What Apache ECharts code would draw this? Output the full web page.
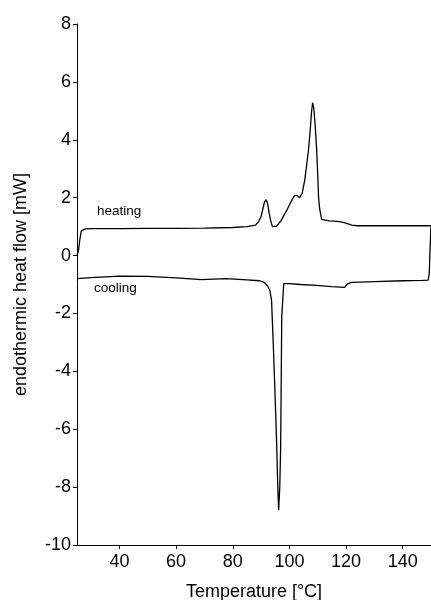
<!DOCTYPE html>
<html><head><meta charset="utf-8">
<script src="https://cdn.jsdelivr.net/npm/echarts@6/dist/echarts.min.js"></script>
<style>html,body{margin:0;padding:0;background:#fff}#c{width:431px;height:600px}</style>
</head><body><div id="c"></div>
<script>
var heatingT = [25,25.5,26,26.5,27,28,30,40,50,60,70,80,85,88,89,90,90.6,91.2,91.8,92.3,92.8,93.4,94,94.6,95.5,97,99,100.5,101.8,102.7,103.6,104.5,105.4,106.2,106.8,107.4,107.8,108.2,108.6,109.1,109.6,110.0,110.3,110.7,111.0,111.4,112,114,117,119,120.5,122,124,125.5,130,140,150];
var heatingV = [0.0,0.15,0.55,0.85,0.9,0.92,0.93,0.93,0.94,0.94,0.95,0.97,1.0,1.05,1.15,1.35,1.6,1.85,1.93,1.8,1.5,1.2,1.0,0.97,1.02,1.2,1.55,1.85,2.07,2.08,2.0,2.15,2.6,3.2,3.7,4.4,4.95,5.28,5.1,4.5,3.7,2.8,2.0,1.6,1.45,1.25,1.2,1.2,1.18,1.15,1.1,1.05,1.03,1.03,1.03,1.03,1.03];
var coolingT = [150,149.7,149.4,149,147,140,130,122,120.5,119.5,115,109.5,104,100,98,97.6,97.3,97.1,96.9,96.6,96.2,95.9,95.5,94.8,94.2,93.7,93.1,92.3,91.2,89.5,85,77.5,69,60,50,40,30,25];
var coolingV = [1.0,0.3,-0.6,-0.85,-0.86,-0.87,-0.9,-0.93,-0.98,-1.1,-1.07,-1.03,-1.0,-0.97,-0.97,-0.98,-2.1,-4.5,-6.7,-8.0,-8.8,-8.0,-6.5,-4.4,-2.8,-1.55,-1.2,-1.05,-0.93,-0.87,-0.84,-0.8,-0.83,-0.77,-0.72,-0.71,-0.76,-0.8];
var xTicks = [40,60,80,100,120,140];
var yTicks = [-10,-8,-6,-4,-2,0,2,4,6,8];
var labels = ['heating','cooling'];

function pairs(t,v){return t.map(function(x,i){return [x,v[i]];});}
var chart = echarts.init(document.getElementById('c'));
var font = 'Liberation Sans, Arial, sans-serif';
chart.setOption({
  animation:false,
  backgroundColor:'#fff',
  grid:{left:77,right:0,top:24,bottom:55,containLabel:false,outerBoundsMode:'none'},
  xAxis:{type:'value',min:25,max:150,interval:20,
    axisLine:{show:true,onZero:false,lineStyle:{color:'#000',width:1}},
    axisTick:{show:true,length:4,lineStyle:{color:'#000'},customValues:xTicks},
    axisLabel:{color:'#000',fontSize:18,fontFamily:font,margin:8,customValues:xTicks},
    splitLine:{show:false},
    name:'Temperature [°C]',nameLocation:'middle',nameGap:38,
    nameTextStyle:{color:'#000',fontSize:18,fontFamily:font}},
  yAxis:{type:'value',min:-10,max:8,interval:2,
    axisLine:{show:true,onZero:false,lineStyle:{color:'#000',width:1}},
    axisTick:{show:true,length:4,lineStyle:{color:'#000'}},
    axisLabel:{color:'#000',fontSize:18,fontFamily:font,margin:6},
    splitLine:{show:false},
    name:'endothermic heat flow [mW]',nameLocation:'middle',nameGap:47,
    nameTextStyle:{color:'#000',fontSize:18,fontFamily:font}},
  graphic:[
    {type:'text',left:97,top:204,style:{text:labels[0],fill:'#000',font:'13.5px '+font}},
    {type:'text',left:94,top:281,style:{text:labels[1],fill:'#000',font:'13.5px '+font}}
  ],
  series:[
    {type:'line',data:pairs(heatingT,heatingV),showSymbol:false,smooth:false,lineStyle:{color:'#000',width:1.3}},
    {type:'line',data:pairs(coolingT,coolingV),showSymbol:false,smooth:false,lineStyle:{color:'#000',width:1.3}}
  ]
});
</script></body></html>
